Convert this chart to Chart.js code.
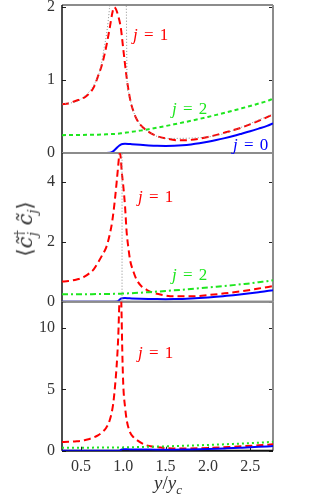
<!DOCTYPE html>
<html>
<head>
<meta charset="utf-8">
<script src="https://cdn.jsdelivr.net/npm/chart.js@4.4.1/dist/chart.umd.min.js"></script>
<style>
    body { margin: 0; background: #fff; }
    #wrap { position: relative; width: 332px; height: 495px; overflow: hidden; }
    canvas { position: absolute; left: 0; top: 0; }
    .lbl { position: absolute; font-family: 'Liberation Serif', serif; font-size: 17px; line-height: 1; white-space: nowrap; word-spacing: 2px; }
    .ylab { position: absolute; left: 26px; top: 229px; transform: translate(-50%, -50%) rotate(-90deg); font-family: 'DejaVu Serif', serif; font-size: 21px; color: #333; white-space: nowrap; }
    .xlab { position: absolute; left: 168px; top: 485px; transform: translate(-50%, -50%); font-family: 'Liberation Serif', serif; font-size: 19px; color: #333; white-space: nowrap; }
</style>
</head>
<body>
<div id="wrap">
    <canvas id="top" width="332" height="495"></canvas>
    <canvas id="mid" width="332" height="495"></canvas>
    <canvas id="bot" width="332" height="495"></canvas>

    <div class="lbl" style="left:133px;top:26px;color:#f00"><i>j</i> = 1</div>
    <div class="lbl" style="left:172px;top:100px;color:#1ee61e"><i>j</i> = 2</div>
    <div class="lbl" style="left:233px;top:136px;color:#00f"><i>j</i> = 0</div>
    <div class="lbl" style="left:138px;top:188px;color:#f00"><i>j</i> = 1</div>
    <div class="lbl" style="left:172px;top:266px;color:#1ee61e"><i>j</i> = 2</div>
    <div class="lbl" style="left:138px;top:344px;color:#f00"><i>j</i> = 1</div>

    <div class="ylab">⟨<i>c̃</i><sup style="font-size:13px">†</sup><sub style="font-size:13px;margin-left:-6px"><i>j</i></sub> <i>c̃</i><sub style="font-size:13px"><i>j</i></sub>⟩</div>
    <div class="xlab"><i>y</i>/<i>y</i><sub style="font-size:13px"><i>c</i></sub></div>
</div>
<script>
// x axis
const xMin = 0.275;
const xMax = 2.77;
const xTicks = [0.5, 1, 1.5, 2, 2.5];

// y ticks per panel
const yTicksTop = [0, 1, 2];
const yTicksMid = [0, 2, 4];
const yTicksBot = [0, 5, 10];

// shared grid for j=0 and j=2
const xs = [0.275, 0.4, 0.5, 0.6, 0.7, 0.8, 0.84, 0.87, 0.9, 0.93, 0.95, 0.97, 0.99, 1.02, 1.06, 1.1, 1.2, 1.3, 1.4, 1.5, 1.6, 1.7, 1.8, 1.9, 2.0, 2.1, 2.2, 2.3, 2.4, 2.5, 2.6, 2.7, 2.77];

const j0Top = [0, 0, 0, 0, 0, 0, 0.002, 0.015, 0.045, 0.08, 0.1, 0.115, 0.123, 0.127, 0.125, 0.121, 0.112, 0.104, 0.098, 0.096, 0.098, 0.105, 0.117, 0.133, 0.153, 0.177, 0.204, 0.233, 0.265, 0.298, 0.334, 0.372, 0.405];
const j0Mid = [0, 0, 0, 0, 0, 0, 0, 0, 0, 0.003, 0.05, 0.1, 0.118, 0.12, 0.115, 0.11, 0.1, 0.092, 0.087, 0.085, 0.087, 0.094, 0.105, 0.12, 0.14, 0.163, 0.19, 0.218, 0.25, 0.283, 0.318, 0.355, 0.385];
const j0Bot = [0, 0, 0, 0, 0, 0, 0, 0, 0, 0, 0, 0.06, 0.11, 0.115, 0.11, 0.105, 0.095, 0.088, 0.083, 0.082, 0.085, 0.092, 0.103, 0.118, 0.137, 0.16, 0.187, 0.215, 0.247, 0.28, 0.315, 0.352, 0.38];

const j2Top = [0.245, 0.246, 0.248, 0.25, 0.252, 0.256, 0.258, 0.26, 0.262, 0.265, 0.267, 0.27, 0.272, 0.277, 0.283, 0.29, 0.307, 0.327, 0.348, 0.37, 0.393, 0.417, 0.442, 0.468, 0.495, 0.523, 0.552, 0.582, 0.613, 0.645, 0.678, 0.712, 0.745];
const j2Mid = [0.25, 0.25, 0.25, 0.252, 0.254, 0.257, 0.259, 0.26, 0.262, 0.264, 0.266, 0.268, 0.27, 0.274, 0.279, 0.285, 0.3, 0.318, 0.337, 0.357, 0.378, 0.4, 0.423, 0.447, 0.472, 0.498, 0.525, 0.553, 0.582, 0.612, 0.65, 0.685, 0.715];
const j2Bot = [0.245, 0.246, 0.248, 0.25, 0.252, 0.255, 0.257, 0.258, 0.26, 0.262, 0.264, 0.266, 0.268, 0.272, 0.277, 0.283, 0.298, 0.316, 0.335, 0.355, 0.376, 0.398, 0.421, 0.445, 0.47, 0.497, 0.525, 0.555, 0.586, 0.618, 0.655, 0.69, 0.725];

// j=1, denser around the peak
const xRedTop = [0.275, 0.35, 0.4, 0.45, 0.5, 0.55, 0.6, 0.65, 0.7, 0.75, 0.8, 0.84, 0.87, 0.89, 0.91, 0.94, 0.97, 1.0, 1.04, 1.08, 1.12, 1.16, 1.2, 1.3, 1.4, 1.5, 1.65, 1.8, 2.0, 2.2, 2.4, 2.6, 2.77];
const j1Top = [0.67, 0.68, 0.7, 0.72, 0.74, 0.77, 0.82, 0.9, 1.05, 1.22, 1.47, 1.72, 1.92, 2.0, 1.98, 1.88, 1.72, 1.42, 1.03, 0.74, 0.57, 0.46, 0.39, 0.29, 0.23, 0.2, 0.175, 0.18, 0.22, 0.28, 0.35, 0.44, 0.53];

const xRedMid = [0.275, 0.35, 0.4, 0.45, 0.5, 0.55, 0.6, 0.65, 0.7, 0.75, 0.8, 0.84, 0.87, 0.9, 0.92, 0.94, 0.95, 0.96, 0.97, 0.98, 1.0, 1.02, 1.04, 1.06, 1.08, 1.12, 1.16, 1.22, 1.28, 1.35, 1.45, 1.6, 1.8, 2.0, 2.2, 2.4, 2.6, 2.77];
const j1Mid = [0.67, 0.69, 0.71, 0.74, 0.78, 0.85, 0.95, 1.08, 1.3, 1.55, 1.83, 2.25, 2.7, 3.39, 3.95, 4.55, 4.85, 4.95, 4.8, 4.39, 3.85, 3.2, 2.3, 1.8, 1.39, 1.0, 0.72, 0.5, 0.39, 0.3, 0.23, 0.18, 0.18, 0.22, 0.28, 0.35, 0.44, 0.52];

const xRedBot = [0.275, 0.35, 0.4, 0.45, 0.5, 0.55, 0.6, 0.65, 0.7, 0.75, 0.8, 0.84, 0.88, 0.9, 0.92, 0.94, 0.955, 0.965, 0.975, 0.99, 1.0, 1.02, 1.04, 1.08, 1.12, 1.16, 1.25, 1.35, 1.5, 1.7, 2.0, 2.3, 2.6, 2.77];
const j1Bot = [0.7, 0.72, 0.74, 0.77, 0.81, 0.87, 0.96, 1.08, 1.25, 1.5, 1.9, 2.5, 3.8, 5.1, 6.8, 9.3, 12.5, 14.0, 12.5, 7.5, 5.3, 3.6, 2.5, 1.5, 1.1, 0.87, 0.5, 0.33, 0.22, 0.18, 0.22, 0.32, 0.44, 0.52];

// grey dotted reference curves
const xGreyTop = [0.275, 0.5, 0.7, 0.74, 0.77, 0.8, 0.82, 0.84, 0.86, 0.9, 1.0, 1.035, 1.045, 1.06, 1.08, 1.12, 1.2, 1.3, 1.5, 2.0, 2.77];
const greyTop = [0.67, 0.74, 1.05, 1.22, 1.42, 1.62, 1.8, 2.05, 2.5, 3.5, 3.5, 2.05, 0.95, 0.84, 0.74, 0.57, 0.39, 0.29, 0.2, 0.22, 0.53];
const xGreyMid = [0.985, 0.985];
const greyMid = [0, 5];

function pts(xArr, yArr) {
    return xArr.map((x, i) => ({ x: x, y: yArr[i] }));
}

function seg(ctx, x1, y1, x2, y2) {
    ctx.beginPath();
    ctx.moveTo(x1, y1);
    ctx.lineTo(x2, y2);
    ctx.stroke();
}

// frame with inward ticks
const framePlugin = {
    id: 'frame',
    beforeDatasetsDraw(chart, args, opts) {
        const ctx = chart.ctx, a = chart.chartArea;
        const ys = chart.scales.y, xsc = chart.scales.x;
        ctx.save();
        ctx.lineWidth = 1;
        ctx.strokeStyle = '#222';
        ys.ticks.forEach(t => {
            const p = Math.round(ys.getPixelForValue(t.value)) + 0.5;
            seg(ctx, a.left, p, a.left + 4, p);
            seg(ctx, a.right - 4, p, a.right, p);
        });
        if (opts.xTicks) {
            xsc.ticks.forEach(t => {
                const p = Math.round(xsc.getPixelForValue(t.value)) + 0.5;
                seg(ctx, p, a.bottom, p, a.bottom - 4);
            });
        }
        ctx.lineWidth = 2;
        ctx.strokeStyle = '#8c8c8c';
        seg(ctx, a.left, a.top, a.right, a.top);
        seg(ctx, a.right, a.top, a.right, a.bottom);
        ctx.strokeStyle = opts.bottomColor;
        seg(ctx, a.left, a.bottom, a.right, a.bottom);
        ctx.lineWidth = 1.5;
        ctx.strokeStyle = '#111';
        seg(ctx, a.left, a.top, a.left, a.bottom);
        ctx.restore();
    }
};

const tickFont = { family: "'Liberation Serif', serif", size: 16 };

function makePanel(id, p) {
    const datasets = [];
    if (p.grey) {
        datasets.push({
            data: pts(p.grey[0], p.grey[1]),
            borderColor: '#8a8a8a', borderWidth: 1, borderDash: [1, 2],
            cubicInterpolationMode: p.greyStraight ? 'default' : 'monotone', tension: 0
        });
    }
    datasets.push({
        data: pts(xs, p.j2), borderColor: '#1ee61e', borderWidth: 2, borderDash: p.greenDash,
        cubicInterpolationMode: 'monotone'
    });
    datasets.push({
        data: pts(xs, p.j0), borderColor: '#0000ff', borderWidth: 2,
        cubicInterpolationMode: 'monotone'
    });
    datasets.push({
        data: pts(p.xRed, p.j1), borderColor: '#ff0000', borderWidth: 2, borderDash: [7, 4],
        cubicInterpolationMode: 'monotone'
    });

    return new Chart(document.getElementById(id).getContext('2d'), {
        type: 'line',
        data: { datasets: datasets },
        options: {
            responsive: false,
            animation: false,
            events: [],
            layout: { padding: { left: 0, right: 59, top: p.top, bottom: p.bottom } },
            elements: { point: { radius: 0 } },
            plugins: {
                legend: { display: false },
                tooltip: { enabled: false },
                frame: { xTicks: p.showX, bottomColor: p.showX ? '#111' : '#8c8c8c' }
            },
            scales: {
                x: {
                    type: 'linear',
                    min: xMin,
                    max: xMax,
                    display: p.showX,
                    grid: { display: false, drawTicks: false },
                    border: { display: false },
                    ticks: { font: tickFont, color: '#333', padding: 6, maxRotation: 0 },
                    afterBuildTicks: s => { s.ticks = xTicks.map(v => ({ value: v })); },
                    afterFit: s => { s.height = p.showX ? 44.3 : 0; s.paddingLeft = 0; s.paddingRight = 0; }
                },
                y: {
                    type: 'linear',
                    min: 0,
                    max: p.yMax,
                    grid: { display: false, drawTicks: false },
                    border: { display: false },
                    ticks: { font: tickFont, color: '#333', padding: 7 },
                    afterBuildTicks: s => { s.ticks = p.yTicks.map(v => ({ value: v })); },
                    afterFit: s => { s.width = 62; s.paddingTop = 0; s.paddingBottom = 0; }
                }
            }
        },
        plugins: [framePlugin]
    });
}

makePanel('top', {
    top: 5, bottom: 342, showX: false, yMax: 2.03, yTicks: yTicksTop,
    xRed: xRedTop, j1: j1Top, j2: j2Top, j0: j0Top, greenDash: [4, 3],
    grey: [xGreyTop, greyTop]
});
makePanel('mid', {
    top: 153, bottom: 193.3, showX: false, yMax: 4.96, yTicks: yTicksMid,
    xRed: xRedMid, j1: j1Mid, j2: j2Mid, j0: j0Mid, greenDash: [6, 3, 2, 3],
    grey: [xGreyMid, greyMid], greyStraight: true
});
makePanel('bot', {
    top: 301.7, bottom: 0, showX: true, yMax: 12.15, yTicks: yTicksBot,
    xRed: xRedBot, j1: j1Bot, j2: j2Bot, j0: j0Bot, greenDash: [2, 3]
});
</script>
</body>
</html>
